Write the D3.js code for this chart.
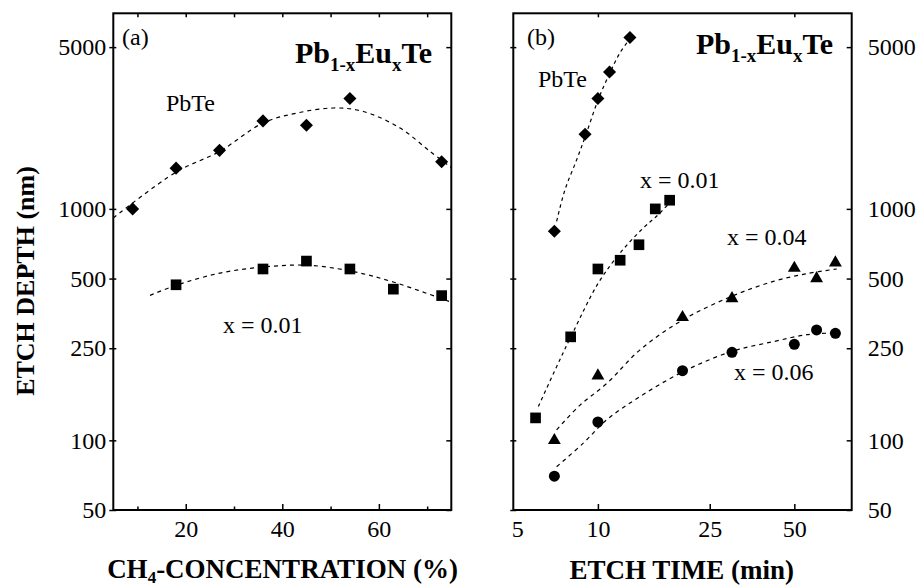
<!DOCTYPE html>
<html>
<head>
<meta charset="utf-8">
<script src="https://cdn.jsdelivr.net/npm/d3@7"></script>
<style>
body { margin: 0; background: #fff; }
svg, text { font-family: "Liberation Serif", "Times New Roman", serif; fill: #000; }
</style>
</head>
<body>
<svg width="920" height="585"></svg>
<script>
// panel (a): etch depth vs CH4 concentration
var concPbTe = [9, 18, 27, 36, 45, 54, 73];
var depthPbTe = [1000, 1500, 1790, 2400, 2300, 3000, 1600];
var concX01 = [18, 36, 45, 54, 63, 73];
var depthX01 = [470, 550, 595, 550, 450, 422];
// dashed guide curves
var fitConcPbTe = [5, 18, 27, 36, 43, 50.6, 56.8, 64.4, 70.6, 75];
var fitDepthPbTe = [914, 1442, 1771, 2350, 2594, 2729, 2635, 2235, 1771, 1509];
var fitConcX01 = [12.6, 18.1, 27.1, 36.1, 45.1, 54.1, 63, 75];
var fitDepthX01 = [423, 468, 528, 561, 571, 539, 483, 395];

// panel (b): etch depth vs etch time
var timePbTe = [7, 9, 10, 11, 13];
var depthPbTeB = [800, 2100, 3000, 3900, 5500];
var time01 = [6, 8, 10, 12, 14, 16, 18];
var depth01 = [125, 280, 550, 600, 700, 1000, 1090];
var time04 = [7, 10, 20, 30, 50, 60, 70];
var depth04 = [100, 190, 340, 410, 555, 500, 585];
var time06 = [7, 10, 20, 30, 50, 60, 70];
var depth06 = [70, 120, 200, 240, 260, 300, 290];

var fitTimePbTe = [7.13, 7.64, 8.41, 9.07, 10.03, 11.04, 11.99, 13.09];
var fitDepthPbTeB = [884, 1212, 1634, 2097, 2972, 3877, 4731, 5497];
var fitTime01 = [6.14, 7.13, 8.18, 10.03, 12.0, 14.51, 16.17, 18.0];
var fitDepth01 = [140, 208, 295, 478, 645, 828, 929, 1062];
var fitTime04 = [7.13, 8.64, 10.75, 14.12, 20.1, 29.9, 42.1, 55.3, 70.8];
var fitDepth04 = [111, 142, 176, 246, 332, 419, 486, 525, 550];
var fitTime06 = [7.13, 8.87, 10.75, 14.12, 20.1, 29.9, 42.1, 55.3, 68.9];
var fitDepth06 = [76.9, 97.2, 122.7, 154.6, 198, 242, 267, 286, 291];

var depthTicks = [50, 100, 250, 500, 1000, 5000];
var concTicks = [20, 40, 60];
var concMinor = [10, 30, 50, 70];
var concTop = [10, 20, 30, 40, 50, 60, 70];
var timeTicks = [5, 10, 25, 50];
var timeInner = [10, 25, 50];
var timeTop = [10, 50];

var svg = d3.select('svg'),
	plotTop = 13.3,
	plotBottom = 510;

var y = d3.scaleLog().domain([50, 7000]).range([plotBottom, plotTop]);
var xa = d3.scaleLinear().domain([5, 75]).range([113.3, 451.3]);
var xb = d3.scaleLog().domain([5, 80]).range([513.3, 851.7]);

function zip(a, b) {
	return a.map(function(d, i) { return [d, b[i]]; });
}

function frame(x) {
	svg.append('rect')
		.attr('x', x.range()[0]).attr('y', plotTop)
		.attr('width', x.range()[1] - x.range()[0])
		.attr('height', plotBottom - plotTop)
		.attr('fill', 'none').attr('stroke', '#000').attr('stroke-width', 2);
}

function bare(g) {
	g.attr('font-family', '"Liberation Serif", "Times New Roman", serif');
	g.select('.domain').remove();
	g.selectAll('.tick line').attr('stroke', '#000').attr('stroke-width', 1.5);
	g.selectAll('text').style('font-size', '24px').attr('fill', '#000')
		.style('font-family', '"Liberation Serif", "Times New Roman", serif');
}

function curve(x, xs, ys, dash) {
	var line = d3.line()
		.x(function(d) { return x(d[0]); })
		.y(function(d) { return y(d[1]); })
		.curve(d3.curveCatmullRom.alpha(0.5));
	svg.append('path')
		.datum(zip(xs, ys))
		.attr('d', line)
		.attr('fill', 'none')
		.attr('stroke', '#000')
		.attr('stroke-width', 1.2)
		.attr('stroke-dasharray', dash || '4,4');
}

function marks(x, xs, ys, type, size, rot) {
	svg.append('g').selectAll('path')
		.data(zip(xs, ys))
		.enter().append('path')
		.attr('d', d3.symbol().type(type).size(size))
		.attr('transform', function(d) {
			return 'translate(' + x(d[0]) + ',' + y(d[1]) + ')' + (rot ? ' rotate(' + rot + ')' : '');
		})
		.attr('fill', '#000');
}

function title(xr, yb) {
	var t = svg.append('text')
		.attr('x', xr).attr('y', yb)
		.attr('text-anchor', 'end')
		.style('font-weight', 'bold').style('font-size', '30px');
	t.append('tspan').text('Pb');
	t.append('tspan').attr('dy', 8).style('font-size', '19px').text('1-x');
	t.append('tspan').attr('dy', -8).text('Eu');
	t.append('tspan').attr('dy', 8).style('font-size', '19px').text('x');
	t.append('tspan').attr('dy', -8).text('Te');
}

function label(x, yb, txt) {
	svg.append('text').attr('x', x).attr('y', yb)
		.style('font-size', '24px').text(txt);
}

// ---- panel (a)
frame(xa);

svg.append('g').attr('transform', 'translate(113.3,0)')
	.call(d3.axisLeft(y).tickValues(depthTicks).tickFormat(d3.format('d')).tickSize(4).tickPadding(3))
	.call(bare);
svg.append('g').attr('transform', 'translate(113.3,0)')
	.call(d3.axisRight(y).tickValues(depthTicks).tickFormat('').tickSize(3))
	.call(bare);
svg.append('g').attr('transform', 'translate(451.3,0)')
	.call(d3.axisLeft(y).tickValues(depthTicks).tickFormat('').tickSize(5))
	.call(bare);
svg.append('g').attr('transform', 'translate(0,' + plotBottom + ')')
	.call(d3.axisTop(xa).tickValues(concTicks).tickFormat('').tickSize(6))
	.call(bare);
svg.append('g').attr('transform', 'translate(0,' + plotBottom + ')')
	.call(d3.axisTop(xa).tickValues(concMinor).tickFormat('').tickSize(3.5))
	.call(bare);
svg.append('g').attr('transform', 'translate(0,' + plotBottom + ')')
	.call(d3.axisBottom(xa).tickValues(concTicks).tickFormat(d3.format('d')).tickSize(0).tickPadding(10))
	.call(bare);
svg.append('g').attr('transform', 'translate(0,' + plotTop + ')')
	.call(d3.axisBottom(xa).tickValues(concTop).tickFormat('').tickSize(4))
	.call(bare);

curve(xa, fitConcPbTe, fitDepthPbTe, '4,4');
curve(xa, fitConcX01, fitDepthX01, '4,4');
marks(xa, concPbTe, depthPbTe, d3.symbolSquare, 85, 45);
marks(xa, concX01, depthX01, d3.symbolSquare, 114);

label(122, 45, '(a)');
label(166, 111, 'PbTe');
label(223, 333, 'x = 0.01');
title(432, 63);

// ---- panel (b)
frame(xb);

svg.append('g').attr('transform', 'translate(513.3,0)')
	.call(d3.axisLeft(y).tickValues(depthTicks).tickFormat('').tickSize(3))
	.call(bare);
svg.append('g').attr('transform', 'translate(513.3,0)')
	.call(d3.axisRight(y).tickValues(depthTicks).tickFormat('').tickSize(3))
	.call(bare);
svg.append('g').attr('transform', 'translate(851.7,0)')
	.call(d3.axisLeft(y).tickValues(depthTicks).tickFormat('').tickSize(5))
	.call(bare);
svg.append('g').attr('transform', 'translate(851.7,0)')
	.call(d3.axisRight(y).tickValues(depthTicks).tickFormat(d3.format('d')).tickSize(0).tickPadding(16))
	.call(bare);
svg.append('g').attr('transform', 'translate(0,' + plotBottom + ')')
	.call(d3.axisTop(xb).tickValues(timeInner).tickFormat('').tickSize(6))
	.call(bare);
svg.append('g').attr('transform', 'translate(0,' + plotBottom + ')')
	.call(d3.axisBottom(xb).tickValues(timeTicks).tickFormat(d3.format('d')).tickSize(0).tickPadding(10))
	.call(bare)
	.selectAll('.tick text').attr('dx', function(d) { return d === 5 ? 4 : 0; });
svg.append('g').attr('transform', 'translate(0,' + plotTop + ')')
	.call(d3.axisBottom(xb).tickValues(timeTop).tickFormat('').tickSize(4))
	.call(bare);

curve(xb, fitTimePbTe, fitDepthPbTeB, '3.5,3.5');
curve(xb, fitTime01, fitDepth01, '3.5,3.5');
curve(xb, fitTime04, fitDepth04, '4,4');
curve(xb, fitTime06, fitDepth06, '4,4');
marks(xb, timePbTe, depthPbTeB, d3.symbolSquare, 85, 45);
marks(xb, time01, depth01, d3.symbolSquare, 114);
marks(xb, time04, depth04, d3.symbolTriangle, 72);
marks(xb, time06, depth06, d3.symbolCircle, 95);

label(527, 45, '(b)');
label(538, 87, 'PbTe');
label(640, 188, 'x = 0.01');
label(727, 245, 'x = 0.04');
label(734, 380, 'x = 0.06');
title(833, 54);

// ---- axis titles
svg.append('text')
	.attr('transform', 'translate(34,281) rotate(-90)')
	.attr('text-anchor', 'middle')
	.style('font-weight', 'bold').style('font-size', '26px')
	.text('ETCH DEPTH (nm)');

var xt = svg.append('text')
	.attr('x', 282.5).attr('y', 578)
	.attr('text-anchor', 'middle')
	.style('font-weight', 'bold').style('font-size', '27px');
xt.append('tspan').text('CH');
xt.append('tspan').attr('dy', 5).style('font-size', '17px').text('4');
xt.append('tspan').attr('dy', -5).text('-CONCENTRATION (%)');

svg.append('text')
	.attr('x', 681.7).attr('y', 579)
	.attr('text-anchor', 'middle')
	.style('font-weight', 'bold').style('font-size', '27px')
	.text('ETCH TIME (min)');
</script>
</body>
</html>
